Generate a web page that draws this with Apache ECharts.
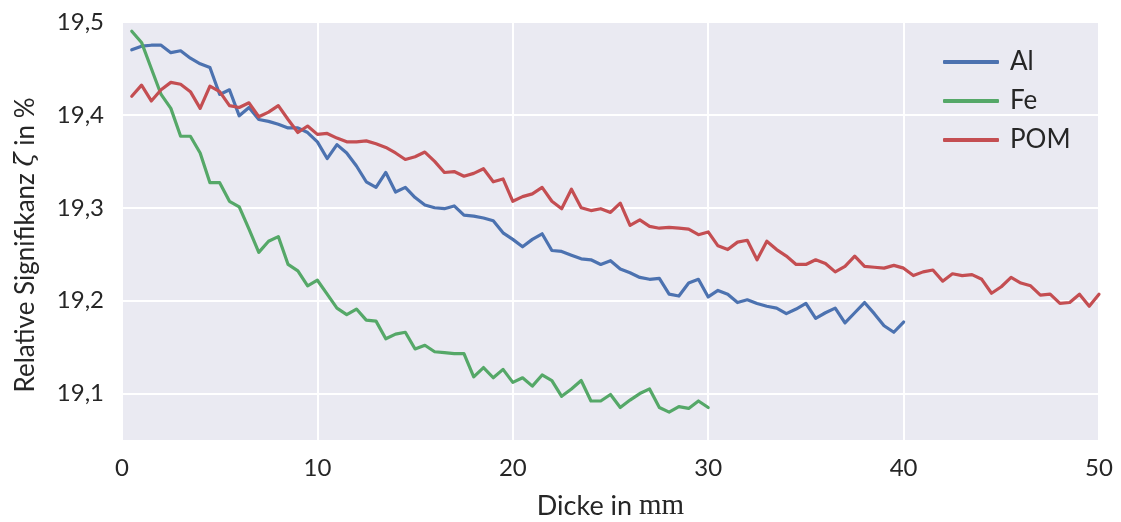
<!DOCTYPE html>
<html>
<head>
<meta charset="utf-8">
<script src="https://cdn.jsdelivr.net/npm/echarts@6/dist/echarts.min.js"></script>
<style>
  html, body { margin: 0; padding: 0; background: #ffffff; }
  #chart { width: 1121px; height: 522px; }
</style>
</head>
<body>
<div id="chart"></div>
<script>
// Plate thickness in mm (shared x values for all materials)
const thickness = [
  0.5, 1, 1.5, 2, 2.5, 3, 3.5, 4, 4.5, 5, 5.5, 6, 6.5, 7, 7.5, 8, 8.5, 9, 9.5, 10,
  10.5, 11, 11.5, 12, 12.5, 13, 13.5, 14, 14.5, 15, 15.5, 16, 16.5, 17, 17.5, 18, 18.5, 19, 19.5, 20,
  20.5, 21, 21.5, 22, 22.5, 23, 23.5, 24, 24.5, 25, 25.5, 26, 26.5, 27, 27.5, 28, 28.5, 29, 29.5, 30,
  30.5, 31, 31.5, 32, 32.5, 33, 33.5, 34, 34.5, 35, 35.5, 36, 36.5, 37, 37.5, 38, 38.5, 39, 39.5, 40,
  40.5, 41, 41.5, 42, 42.5, 43, 43.5, 44, 44.5, 45, 45.5, 46, 46.5, 47, 47.5, 48, 48.5, 49, 49.5, 50
];

// Relative significance in % per material
const alValues = [
  19.470, 19.474, 19.475, 19.475, 19.467, 19.469, 19.461, 19.455, 19.451, 19.422,
  19.427, 19.399, 19.408, 19.395, 19.393, 19.390, 19.386, 19.386, 19.381, 19.371,
  19.353, 19.368, 19.359, 19.345, 19.328, 19.322, 19.338, 19.317, 19.322, 19.311,
  19.303, 19.300, 19.299, 19.302, 19.292, 19.291, 19.289, 19.286, 19.273, 19.266,
  19.258, 19.266, 19.272, 19.254, 19.253, 19.249, 19.245, 19.244, 19.239, 19.243,
  19.234, 19.230, 19.225, 19.223, 19.224, 19.207, 19.205, 19.219, 19.223, 19.204,
  19.211, 19.207, 19.198, 19.201, 19.197, 19.194, 19.192, 19.186, 19.191, 19.197,
  19.181, 19.187, 19.192, 19.176, 19.187, 19.198, 19.186, 19.173, 19.166, 19.177
];

const feValues = [
  19.490, 19.478, 19.450, 19.422, 19.407, 19.377, 19.377, 19.359, 19.327, 19.327,
  19.307, 19.301, 19.277, 19.252, 19.264, 19.269, 19.239, 19.232, 19.216, 19.222,
  19.207, 19.192, 19.185, 19.191, 19.179, 19.178, 19.159, 19.164, 19.166, 19.148,
  19.152, 19.145, 19.144, 19.143, 19.143, 19.118, 19.128, 19.117, 19.126, 19.112,
  19.117, 19.108, 19.120, 19.114, 19.097, 19.105, 19.114, 19.092, 19.092, 19.099,
  19.085, 19.093, 19.100, 19.105, 19.085, 19.080, 19.086, 19.084, 19.092, 19.085
];

const pomValues = [
  19.420, 19.432, 19.415, 19.427, 19.435, 19.433, 19.425, 19.407, 19.431, 19.425,
  19.410, 19.408, 19.413, 19.398, 19.403, 19.410, 19.395, 19.381, 19.388, 19.379,
  19.380, 19.375, 19.371, 19.371, 19.372, 19.369, 19.365, 19.359, 19.352, 19.355,
  19.360, 19.350, 19.338, 19.339, 19.334, 19.337, 19.342, 19.328, 19.331, 19.307,
  19.312, 19.315, 19.322, 19.307, 19.299, 19.320, 19.300, 19.297, 19.299, 19.295,
  19.305, 19.281, 19.287, 19.280, 19.278, 19.279, 19.278, 19.277, 19.271, 19.274,
  19.259, 19.255, 19.263, 19.265, 19.244, 19.264, 19.255, 19.248, 19.239, 19.239,
  19.244, 19.240, 19.231, 19.237, 19.248, 19.237, 19.236, 19.235, 19.238, 19.235,
  19.227, 19.231, 19.233, 19.221, 19.229, 19.227, 19.228, 19.223, 19.208, 19.215,
  19.225, 19.219, 19.216, 19.206, 19.207, 19.197, 19.198, 19.207, 19.194, 19.207
];

const seriesNames = ['Al', 'Fe', 'POM'];
const seriesColors = ['#4C72B0', '#55A868', '#C44E52'];
const yTickValues = [19.1, 19.2, 19.3, 19.4, 19.5];

const FONT = 'Lato, "DejaVu Sans", sans-serif';
const SERIF = '"Liberation Serif", "DejaVu Serif", serif';
const TEXT = '#262626';

function pairs(values) {
  return values.map((v, i) => [thickness[i], v]);
}

const chart = echarts.init(document.getElementById('chart'), null, { renderer: 'canvas' });

chart.setOption({
  animation: false,
  backgroundColor: '#ffffff',
  textStyle: { fontFamily: FONT, color: TEXT },
  grid: {
    left: 122, right: 22, top: 22, bottom: 82,
    outerBoundsMode: 'none',
    containLabel: false,
    show: true, backgroundColor: '#EAEAF2', borderWidth: 0
  },
  legend: {
    orient: 'vertical',
    left: 938, top: 44,
    itemWidth: 56, itemHeight: 4, itemGap: 13,
    icon: 'roundRect',
    textStyle: { fontFamily: FONT, fontSize: 26, color: TEXT, padding: [0, 0, 0, 6] },
    data: seriesNames
  },
  xAxis: {
    type: 'value',
    min: 0, max: 50, interval: 10,
    axisLine: { show: false },
    axisTick: { show: false },
    axisLabel: { fontFamily: FONT, fontSize: 24, color: TEXT, margin: 16 },
    splitLine: { show: true, lineStyle: { color: '#ffffff', width: 2 } },
    name: 'Dicke in {m|mm}',
    nameLocation: 'middle',
    nameGap: 52,
    nameTextStyle: {
      fontFamily: FONT, fontSize: 27, color: TEXT,
      rich: { m: { fontFamily: SERIF, fontSize: 29, color: TEXT } }
    }
  },
  yAxis: {
    type: 'value',
    min: 19.05, max: 19.5,
    axisLine: { show: false },
    axisTick: { show: false, customValues: yTickValues },
    axisLabel: {
      fontFamily: FONT, fontSize: 24, color: TEXT, margin: 18,
      customValues: yTickValues,
      formatter: v => v.toFixed(1).replace('.', ',')
    },
    splitLine: { show: true, lineStyle: { color: '#ffffff', width: 2 } },
    name: 'Relative Signifikanz {z|ζ\u0304} in %',
    nameLocation: 'middle',
    nameRotate: 90,
    nameGap: 83,
    nameTextStyle: {
      fontFamily: FONT, fontSize: 26, color: TEXT,
      padding: [0, 28, 0, 0],
      rich: { z: { fontFamily: '"DejaVu Serif", serif', fontStyle: 'italic', fontSize: 26, color: TEXT } }
    }
  },
  series: [
    { name: seriesNames[0], data: pairs(alValues) },
    { name: seriesNames[1], data: pairs(feValues) },
    { name: seriesNames[2], data: pairs(pomValues) }
  ].map((s, i) => ({
    type: 'line',
    name: s.name,
    data: s.data,
    symbol: 'none',
    color: seriesColors[i],
    lineStyle: { color: seriesColors[i], width: 3.2, join: 'round', cap: 'round' },
    itemStyle: { color: seriesColors[i] }
  }))
});
</script>
</body>
</html>
